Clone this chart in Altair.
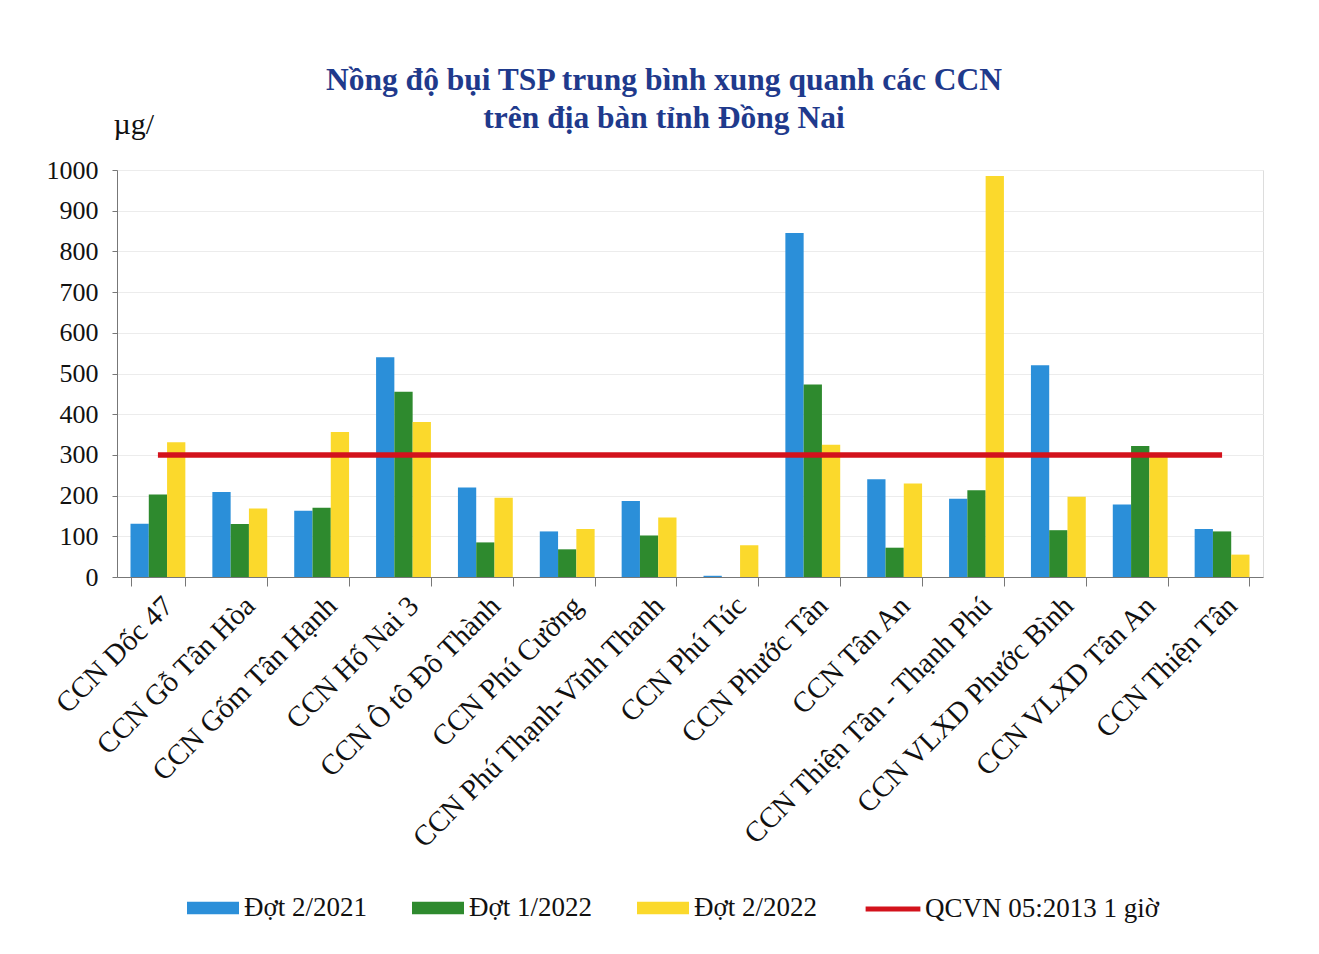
import altair as alt
import pandas as pd

categories = [
    "CCN Dốc 47", "CCN Gỗ Tân Hòa", "CCN Gốm Tân Hạnh", "CCN Hố Nai 3",
    "CCN Ô tô Đô Thành", "CCN Phú Cường", "CCN Phú Thạnh-Vĩnh Thanh",
    "CCN Phú Túc", "CCN Phước Tân", "CCN Tân An", "CCN Thiện Tân - Thạnh Phú",
    "CCN VLXD Phước Bình", "CCN VLXD Tân An", "CCN Thiện Tân",
]
dot_2_2021 = [131, 209, 163, 540, 220, 112, 187, 3, 845, 240, 192, 520, 178, 118]
dot_1_2022 = [203, 130, 170, 455, 85, 68, 102, 0, 473, 72, 213, 115, 322, 112]
dot_2_2022 = [331, 168, 356, 381, 195, 118, 146, 78, 325, 230, 985, 197, 305, 55]
qcvn_value = [300] * len(categories)

series_names = ["Đợt 2/2021", "Đợt 1/2022", "Đợt 2/2022"]
series_colors = ["#2b8fd9", "#2e8a2e", "#fbd92c"]
qcvn_name = "QCVN 05:2013 1 giờ"
qcvn_color = "#d3121c"

rows = []
for s, vals in zip(series_names, [dot_2_2021, dot_1_2022, dot_2_2022]):
    for c, v in zip(categories, vals):
        rows.append({"cat": c, "series": s, "value": v})
df_bars = pd.DataFrame(rows)
df_line = pd.DataFrame({"cat": categories, "series": qcvn_name, "value": qcvn_value})

FONT = "Liberation Serif"

bar_shape = "M-1,-0.24H1V0.24H-1Z"

x_enc = alt.X(
    "cat:N", sort=categories, title=None,
    scale=alt.Scale(paddingInner=0.33, paddingOuter=0.165),
    axis=alt.Axis(
        labelAngle=-45, labelAlign="right", labelBaseline="top",
        labelFont=FONT, labelFontSize=29, labelColor="#111", labelPadding=5,
        tickBand="extent", tickSize=9, tickColor="#777", domainColor="#777",
        labelLimit=600, grid=False,
    ),
)
y_enc = alt.Y(
    "value:Q", scale=alt.Scale(domain=[0, 1000]),
    axis=alt.Axis(
        values=list(range(0, 1001, 100)), format="d", title="µg/", titleAngle=0,
        titleAlign="left", titleBaseline="alphabetic", titleX=-4, titleY=-37,
        titleFont=FONT, titleFontSize=30, titleFontWeight="normal", titleColor="#111",
        labelFont=FONT, labelFontSize=26, labelColor="#111", labelPadding=14,
        tickSize=5, tickColor="#777", domainColor="#777",
        gridColor="#ececec", gridWidth=1,
    ),
)

bars = alt.Chart(df_bars).mark_bar().encode(
    x=x_enc,
    xOffset=alt.XOffset("series:N", sort=series_names,
                        scale=alt.Scale(paddingInner=0, paddingOuter=0)),
    y=y_enc,
    color=alt.Color(
        "series:N", sort=series_names,
        scale=alt.Scale(domain=series_names, range=series_colors),
        legend=alt.Legend(
            title=None, orient="none", legendX=70, legendY=712,
            direction="horizontal", columns=3, columnPadding=44,
            symbolType=bar_shape, symbolSize=2704, symbolStrokeWidth=0,
            labelFont=FONT, labelFontSize=27, labelColor="#111", labelOffset=5,
            labelLimit=400,
        ),
    ),
)

line = alt.Chart(df_line).mark_line(strokeWidth=5.5).encode(
    x=alt.X("cat:N", sort=categories),
    y=alt.Y("value:Q"),
    stroke=alt.Stroke(
        "series:N",
        scale=alt.Scale(domain=[qcvn_name], range=[qcvn_color]),
        legend=alt.Legend(
            title=None, orient="none", legendX=746, legendY=709,
            symbolType="stroke", symbolSize=3000, symbolStrokeWidth=5,
            labelFont=FONT, labelFontSize=27, labelColor="#111", labelOffset=2,
            labelLimit=400,
        ),
    ),
)

chart = alt.layer(bars, line).properties(
    width=1146, height=407,
    autosize=alt.AutoSizeParams(type="none"),
    padding={"left": 109, "top": 162, "right": 40, "bottom": 360},
    title=alt.TitleParams(
        text=["Nồng độ bụi TSP trung bình xung quanh các CCN", "trên địa bàn tỉnh Đồng Nai"],
        font=FONT, fontSize=31.5, fontWeight="bold", color="#1f3a8c",
        anchor="middle", dx=-26, offset=-25, lineHeight=38,
    ),
).configure_view(stroke="transparent", strokeWidth=0).configure(background="white")

chart.save("out.html", embed_options={"renderer": "svg", "actions": False})
